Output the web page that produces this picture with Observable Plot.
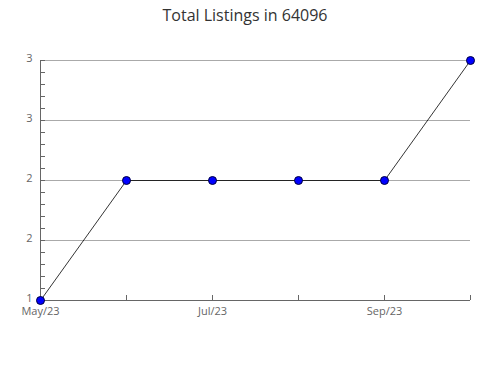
<!DOCTYPE html>
<html>
<head>
<meta charset="utf-8">
<script src="https://cdn.jsdelivr.net/npm/d3@7"></script>
<script src="https://cdn.jsdelivr.net/npm/@observablehq/plot@0.6"></script>
<style>
  body { margin: 0; background: #fff; font-family: "Open Sans", sans-serif; }
  #title { width: 490px; height: 30px; line-height: 30px; text-align: center; font-size: 16px; color: #333; }
  #chart svg { display: block; }
</style>
</head>
<body>
<div id="title">Total Listings in 64096</div>
<div id="chart"></div>
<script>
const months = ["May/23", "Jun/23", "Jul/23", "Aug/23", "Sep/23", "Oct/23"];
const listings = [1, 2, 2, 2, 2, 3];
const labeledMonths = ["May/23", "Jul/23", "Sep/23"];
const yMajorTicks = [1, 1.5, 2, 2.5, 3];
const yMinorTicks = d3.range(1, 3.0001, 0.1);

const data = months.map((m, i) => ({month: m, value: listings[i]}));

function tickMarks(index, scales, values, dimensions) {
  const args = Array.from(arguments);
  const sc = args.find(a => a && typeof a.x === "function" && typeof a.y === "function");
  const g = d3.create("svg:g").attr("stroke", "#666").attr("fill", "none");
  const x0 = sc.x(months[0]);
  const y0 = sc.y(1);
  yMinorTicks.forEach(v => {
    const y = Math.round(sc.y(v)) + 0.5;
    g.append("line").attr("x1", x0).attr("x2", x0 + 5).attr("y1", y).attr("y2", y);
  });
  months.forEach(m => {
    const x = Math.round(sc.x(m)) + 0.5;
    g.append("line").attr("x1", x).attr("x2", x).attr("y1", y0).attr("y2", y0 - 5);
  });
  g.append("line").attr("x1", x0 + 0.5).attr("x2", x0 + 0.5).attr("y1", sc.y(3)).attr("y2", y0);
  g.append("line").attr("x1", x0).attr("x2", sc.x(months[months.length - 1])).attr("y1", y0 + 0.5).attr("y2", y0 + 0.5);
  return g.node();
}

const chart = Plot.plot({
  width: 490,
  height: 350,
  marginTop: 30,
  marginBottom: 80,
  marginLeft: 40,
  marginRight: 20,
  style: {fontFamily: "Open Sans, sans-serif", fontSize: "11px", color: "#666", background: "#fff"},
  x: {type: "point", domain: months, padding: 0, label: null},
  y: {domain: [1, 3], label: null},
  marks: [
    Plot.ruleY(yMajorTicks, {y: d => d, stroke: "#aaa", strokeOpacity: 1}),
    Plot.axisY({ticks: yMajorTicks, tickFormat: d3.format(".0f"), tickSize: 0, tickPadding: 8, dy: -2, fill: "#666", label: null}),
    Plot.axisX({ticks: labeledMonths, tickSize: 0, tickPadding: 7, fill: "#666", label: null}),
    tickMarks,
    Plot.line(data, {x: "month", y: "value", stroke: "#000", strokeWidth: 0.8}),
    Plot.dot(data, {x: "month", y: "value", r: 4, fill: "#0000ff", stroke: "#000040", strokeWidth: 1})
  ]
});
document.getElementById("chart").appendChild(chart);
</script>
</body>
</html>
